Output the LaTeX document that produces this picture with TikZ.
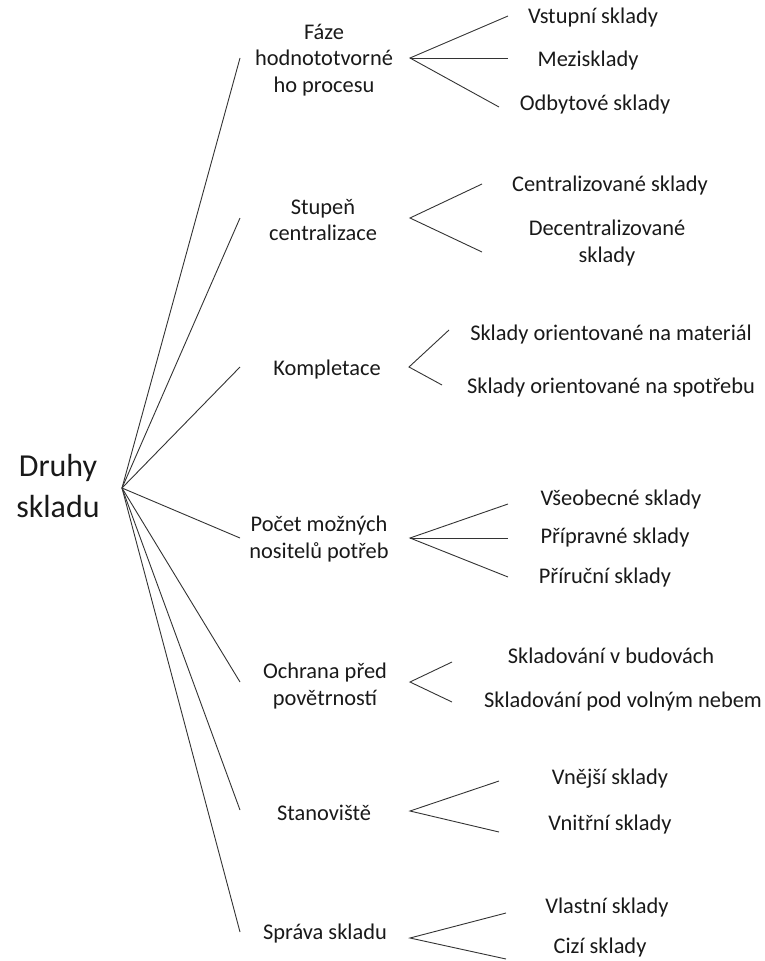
\documentclass[tikz,border=0pt]{standalone}
\usepackage{fontspec}
\setmainfont{Carlito}
\begin{document}
\begin{tikzpicture}[x=1pt,y=-1pt,
  lbl/.style={inner sep=0pt, align=center, text=black!90, font=\fontsize{22.4}{26.5}\selectfont},
  rootlbl/.style={inner sep=0pt, align=center, text=black!90, font=\fontsize{32}{41}\selectfont},
  conn/.style={draw=black!80, line width=0.9pt}]
\useasboundingbox (0,0) rectangle (764,961);
% root
\node[rootlbl] (root) at (58,486) {Druhy\\skladu};
\coordinate (h0) at (122,488);
% categories
\node[lbl] (c1) at (324,60) {Fáze\\hodnototvorné\\ho procesu};
\node[lbl] (c2) at (323,220) {Stupeň\\centralizace};
\node[lbl] (c3) at (327,370) {Kompletace};
\node[lbl] (c4) at (319,539) {Počet možných\\nositelů potřeb};
\node[lbl] (c5) at (325,686) {Ochrana před\\povětrností};
\node[lbl] (c6) at (324,813) {Stanoviště};
\node[lbl] (c7) at (325,934) {Správa skladu};
\coordinate (e1) at (240,58);
\coordinate (e2) at (240,218);
\coordinate (e3) at (240,367);
\coordinate (e4) at (240,538);
\coordinate (e5) at (240,682);
\coordinate (e6) at (240,810);
\coordinate (e7) at (240,932);
\foreach \i in {1,...,7} \draw[conn] (h0) -- (e\i);
% sub hubs
\coordinate (s1) at (410,58);
\coordinate (s2) at (410,218);
\coordinate (s3) at (409,367);
\coordinate (s4) at (410,538);
\coordinate (s5) at (410,682);
\coordinate (s6) at (410,811);
\coordinate (s7) at (410,938);
% leaves
\node[lbl] (n11) at (593,18) {Vstupní sklady};
\node[lbl] (n12) at (588,61) {Mezisklady};
\node[lbl] (n13) at (595,105) {Odbytové sklady};
\node[lbl] (n21) at (610,186) {Centralizované sklady};
\node[lbl] (n22) at (607,243) {Decentralizované\\sklady};
\node[lbl] (n31) at (611,335) {Sklady orientované na materiál};
\node[lbl] (n32) at (611,388) {Sklady orientované na spotřebu};
\node[lbl] (n41) at (621,500) {Všeobecné sklady};
\node[lbl] (n42) at (615,538) {Přípravné sklady};
\node[lbl] (n43) at (605,578) {Příruční sklady};
\node[lbl] (n51) at (611,656) {Skladování v budovách};
\node[lbl] (n52) at (623,702) {Skladování pod volným nebem};
\node[lbl] (n61) at (610,779) {Vnější sklady};
\node[lbl] (n62) at (610,825) {Vnitřní sklady};
\node[lbl] (n71) at (607,908) {Vlastní sklady};
\node[lbl] (n72) at (600,948) {Cizí sklady};
% leaf line ends
\coordinate (l11) at (508,16);
\coordinate (l12) at (508,58);
\coordinate (l13) at (499,107);
\coordinate (l21) at (482,184);
\coordinate (l22) at (482,252);
\coordinate (l31) at (449,330);
\coordinate (l32) at (442,385);
\coordinate (l41) at (508,504);
\coordinate (l42) at (508,538);
\coordinate (l43) at (508,577);
\coordinate (l51) at (452,662);
\coordinate (l52) at (452,702);
\coordinate (l61) at (499,781);
\coordinate (l62) at (499,832);
\coordinate (l71) at (506,913);
\coordinate (l72) at (506,959);
\draw[conn] (l11) -- (s1) -- (l13);
\draw[conn] (s1) -- (l12);
\draw[conn] (l21) -- (s2) -- (l22);
\draw[conn] (l31) -- (s3) -- (l32);
\draw[conn] (l41) -- (s4) -- (l43);
\draw[conn] (s4) -- (l42);
\draw[conn] (l51) -- (s5) -- (l52);
\draw[conn] (l61) -- (s6) -- (l62);
\draw[conn] (l71) -- (s7) -- (l72);
\end{tikzpicture}
\end{document}
